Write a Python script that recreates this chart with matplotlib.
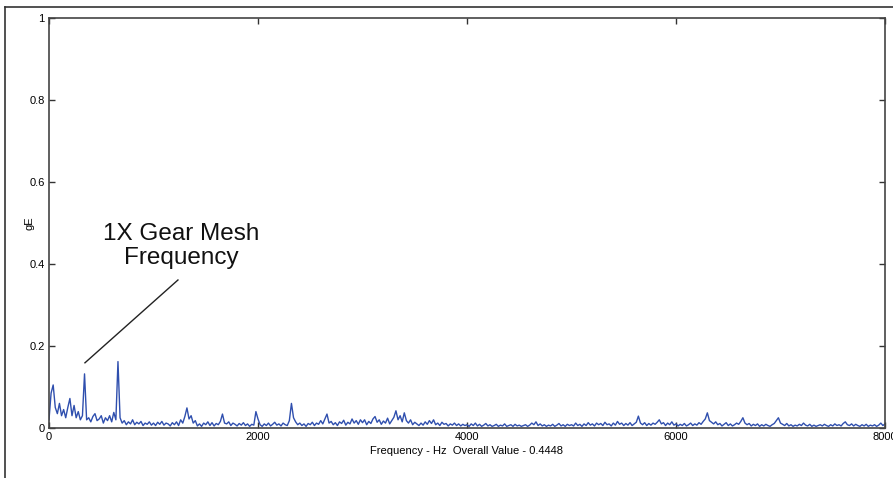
import numpy as np
import matplotlib
matplotlib.use('Agg')
import matplotlib.pyplot as plt
from matplotlib.lines import Line2D

plt.rcParams['font.family'] = ['Liberation Sans', 'DejaVu Sans']

# spectrum amplitude (gE), one value every 20 Hz, split per 1000 Hz block
df = 20.0
gE_0k = [0.020, 0.085, 0.105, 0.050, 0.035, 0.060, 0.030, 0.045, 0.025, 0.050,
         0.072, 0.030, 0.055, 0.025, 0.040, 0.020, 0.030, 0.132, 0.020, 0.025,
         0.015, 0.028, 0.035, 0.018, 0.022, 0.030, 0.012, 0.025, 0.018, 0.030,
         0.015, 0.038, 0.020, 0.162, 0.025, 0.012, 0.018, 0.008, 0.015, 0.010,
         0.020, 0.008, 0.014, 0.010, 0.016, 0.006, 0.012, 0.009, 0.015, 0.007]
gE_1k = [0.012, 0.006, 0.014, 0.009, 0.016, 0.007, 0.012, 0.010, 0.005, 0.013,
         0.008, 0.015, 0.006, 0.020, 0.012, 0.028, 0.049, 0.022, 0.030, 0.012,
         0.018, 0.005, 0.010, 0.004, 0.012, 0.008, 0.015, 0.006, 0.013, 0.005,
         0.011, 0.008, 0.016, 0.034, 0.012, 0.010, 0.015, 0.006, 0.012, 0.009,
         0.005, 0.011, 0.007, 0.013, 0.006, 0.010, 0.004, 0.009, 0.007, 0.040]
gE_2k = [0.022, 0.008, 0.004, 0.010, 0.006, 0.012, 0.005, 0.009, 0.014, 0.007,
         0.010, 0.005, 0.012, 0.008, 0.006, 0.018, 0.060, 0.025, 0.015, 0.008,
         0.012, 0.006, 0.010, 0.004, 0.011, 0.008, 0.014, 0.006, 0.012, 0.009,
         0.018, 0.010, 0.022, 0.034, 0.012, 0.016, 0.008, 0.013, 0.006, 0.015,
         0.011, 0.019, 0.007, 0.014, 0.010, 0.022, 0.012, 0.018, 0.009, 0.020]
gE_3k = [0.013, 0.020, 0.008, 0.016, 0.011, 0.022, 0.028, 0.014, 0.020, 0.009,
         0.017, 0.012, 0.024, 0.010, 0.018, 0.026, 0.042, 0.020, 0.030, 0.015,
         0.037, 0.018, 0.012, 0.020, 0.008, 0.014, 0.010, 0.006, 0.012, 0.007,
         0.015, 0.009, 0.018, 0.011, 0.020, 0.008, 0.012, 0.006, 0.014, 0.009,
         0.011, 0.005, 0.010, 0.007, 0.012, 0.006, 0.010, 0.005, 0.009, 0.006]
gE_4k = [0.008, 0.004, 0.010, 0.006, 0.012, 0.005, 0.009, 0.004, 0.007, 0.011,
         0.005, 0.008, 0.004, 0.006, 0.009, 0.004, 0.007, 0.005, 0.010, 0.004,
         0.006, 0.008, 0.004, 0.009, 0.005, 0.007, 0.004, 0.006, 0.008, 0.004,
         0.007, 0.012, 0.008, 0.015, 0.006, 0.010, 0.005, 0.008, 0.004, 0.007,
         0.005, 0.009, 0.004, 0.007, 0.011, 0.005, 0.008, 0.004, 0.009, 0.006]
gE_5k = [0.008, 0.005, 0.012, 0.006, 0.009, 0.004, 0.010, 0.006, 0.013, 0.007,
         0.010, 0.005, 0.012, 0.008, 0.011, 0.006, 0.014, 0.008, 0.010, 0.005,
         0.012, 0.007, 0.016, 0.009, 0.012, 0.006, 0.011, 0.007, 0.013, 0.006,
         0.010, 0.014, 0.029, 0.012, 0.008, 0.013, 0.006, 0.011, 0.007, 0.012,
         0.009, 0.014, 0.020, 0.010, 0.013, 0.006, 0.012, 0.008, 0.015, 0.007]
gE_6k = [0.010, 0.005, 0.009, 0.006, 0.011, 0.005, 0.008, 0.012, 0.006, 0.010,
         0.007, 0.013, 0.009, 0.016, 0.022, 0.037, 0.018, 0.014, 0.010, 0.015,
         0.008, 0.011, 0.005, 0.009, 0.013, 0.006, 0.010, 0.005, 0.008, 0.012,
         0.009, 0.016, 0.025, 0.012, 0.008, 0.011, 0.005, 0.009, 0.006, 0.010,
         0.004, 0.008, 0.005, 0.009, 0.006, 0.004, 0.008, 0.011, 0.018, 0.025]
gE_7k = [0.012, 0.009, 0.006, 0.011, 0.005, 0.008, 0.004, 0.007, 0.005, 0.009,
         0.006, 0.012, 0.007, 0.005, 0.009, 0.004, 0.007, 0.004, 0.006, 0.008,
         0.005, 0.009, 0.006, 0.004, 0.008, 0.005, 0.010, 0.006, 0.008, 0.005,
         0.011, 0.015, 0.008, 0.006, 0.010, 0.005, 0.009, 0.006, 0.004, 0.008,
         0.005, 0.009, 0.004, 0.007, 0.005, 0.008, 0.004, 0.007, 0.012, 0.006,
         0.010]

gE = np.array(gE_0k + gE_1k + gE_2k + gE_3k + gE_4k + gE_5k + gE_6k + gE_7k)
freq = np.arange(len(gE)) * df

x_ticks = [0, 2000, 4000, 6000, 8000]
y_ticks = [0, 0.2, 0.4, 0.6, 0.8, 1]
y_tick_labels = ['0', '0.2', '0.4', '0.6', '0.8', '1']

fig = plt.figure(figsize=(8.93, 4.78), dpi=100)
ax = fig.add_axes([49/893, 1 - 428/478, 836/893, 410/478])

ax.plot(freq, gE, color='#2F4FAE', linewidth=1.0)
ax.set_xlim(0, 8000)
ax.set_ylim(0, 1)
ax.set_xticks(x_ticks)
ax.set_xticklabels([str(t) for t in x_ticks])
ax.set_yticks(y_ticks)
ax.set_yticklabels(y_tick_labels)
ax.tick_params(direction='in', length=4, width=1, top=True, right=True,
               labelsize=8, colors='#333333', labelcolor='black', pad=3)
for s in ax.spines.values():
    s.set_color('#444444')
    s.set_linewidth(1.2)

ax.set_xlabel('Frequency - Hz  Overall Value - 0.4448', fontsize=8, labelpad=3)
ax.set_ylabel('gE', fontsize=8)
ax.yaxis.set_label_coords(-0.017, 0.5)

# annotation for the 1X gear mesh peak
ax.plot([344, 1234], [0.159, 0.361], color='#222222', linewidth=1.0)
ax.text(1263, 0.445, '1X Gear Mesh\nFrequency', fontsize=17.5, ha='center',
        va='center', linespacing=1.12, color='#111111')

# outer frame lines at top and left of the screenshot
fig.add_artist(Line2D([5/893, 1], [1 - 7/478, 1 - 7/478], color='#333333', linewidth=1.2))
fig.add_artist(Line2D([5/893, 5/893], [0, 1 - 7/478], color='#333333', linewidth=1.2))

fig.savefig('out.png', dpi=100)
